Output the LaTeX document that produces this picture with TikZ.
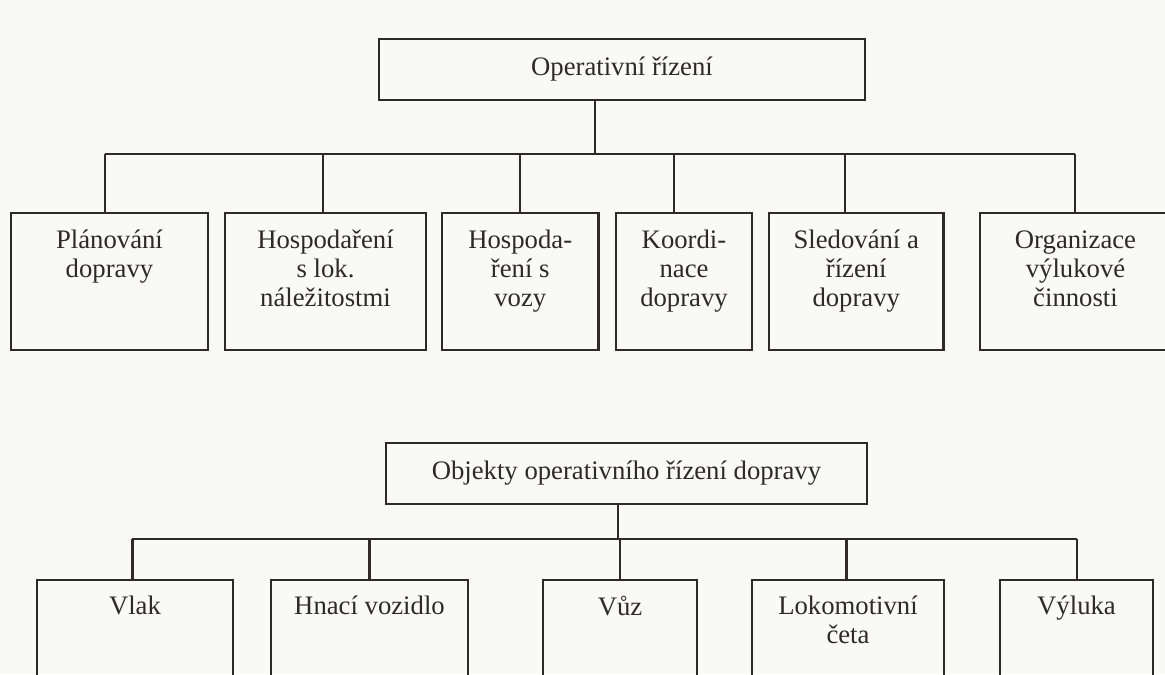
\documentclass[tikz,border=0pt]{standalone}
\usepackage{fontspec}
\setmainfont{Liberation Serif}
\usepackage{tikz}
\usetikzlibrary{positioning}
\definecolor{paper}{RGB}{249,249,245}
\definecolor{ink}{RGB}{48,42,38}

\begin{document}
\begin{tikzpicture}[x=0.02cm,y=-0.02cm,
  head/.style={draw=ink,line width=1.15pt,minimum width=#1,minimum height=1.22cm,inner sep=0pt,anchor=north west,text=ink,font=\fontsize{15.2}{16.5}\selectfont},
  box/.style={draw=ink,line width=1.15pt,minimum width=#1,minimum height=2.74cm,inner sep=0pt,anchor=north west},
  boxtext/.style={align=center,inner sep=0pt,text=ink,font=\fontsize{15.2}{16.5}\selectfont},
  wire/.style={draw=ink,line width=1.15pt}]
  \useasboundingbox (0,0) rectangle (1165,674);
  \clip (0,0) rectangle (1165,674);
  \fill[paper] (0,0) rectangle (1165,674);
  % Upper tree
  \node[head=9.72cm] (oper) at (378,38) {Operativní řízení};
  \node[box=3.94cm] (plan) at (10,212) {};
  \node[box=4.02cm] (lok) at (224,212) {};
  \node[box=3.13cm] (voz) at (441,212) {};
  \node[box=2.72cm] (koord) at (615,212) {};
  \node[box=3.49cm] (sled) at (768,212) {};
  \node[box=3.82cm] (vyl) at (979,212) {};
  \node[boxtext,below=0.36cm of plan.north] (plantext) {Plánování\\dopravy};
  \node[boxtext,below=0.36cm of lok.north] (loktext) {Hospodaření\\s lok.\\náležitostmi};
  \node[boxtext,below=0.36cm of voz.north] (voztext) {Hospoda-\\ření s\\vozy};
  \node[boxtext,below=0.36cm of koord.north] (koordtext) {Koordi-\\nace\\dopravy};
  \node[boxtext,below=0.36cm of sled.north] (sledtext) {Sledování a\\řízení\\dopravy};
  \node[boxtext,below=0.36cm of vyl.north] (vyltext) {Organizace\\výlukové\\činnosti};
  % Upper connectors
  \coordinate (bus1) at (595,154);
  \draw[wire] (oper.south -| bus1) -- (bus1);
  \draw[wire] ([xshift=-0.09cm]plan.north |- bus1) -- ([xshift=-0.02cm]vyl.north |- bus1);
  \draw[wire] ([xshift=-0.09cm]plan.north |- bus1) -- ([xshift=-0.09cm]plan.north);
  \draw[wire] ([xshift=-0.05cm]lok.north |- bus1) -- ([xshift=-0.05cm]lok.north);
  \draw[wire] (voz.north |- bus1) -- (voz.north);
  \draw[wire] ([xshift=-0.2cm]koord.north |- bus1) -- ([xshift=-0.2cm]koord.north);
  \draw[wire] ([xshift=-0.22cm]sled.north |- bus1) -- ([xshift=-0.22cm]sled.north);
  \draw[wire] ([xshift=-0.02cm]vyl.north |- bus1) -- ([xshift=-0.02cm]vyl.north);
  % Lower tree
  \node[head=9.62cm] (obj) at (385,442) {Objekty operativního řízení dopravy};
  \node[box=3.92cm] (vlak) at (36,579) {};
  \node[box=3.94cm] (hnaci) at (270,579) {};
  \node[box=3.08cm] (vuz) at (542,579) {};
  \node[box=3.84cm] (ceta) at (751,579) {};
  \node[box=3.06cm] (vyluka) at (999,579) {};
  \node[boxtext,below=0.33cm of vlak.north] (vlaktext) {Vlak};
  \node[boxtext,below=0.33cm of hnaci.north] (hnacitext) {Hnací vozidlo};
  \node[boxtext,below=0.33cm of vuz.north] (vuztext) {Vůz};
  \node[boxtext,below=0.33cm of ceta.north] (cetatext) {Lokomotivní\\četa};
  \node[boxtext,below=0.33cm of vyluka.north] (vylukatext) {Výluka};
  % Lower connectors
  \coordinate (bus2) at (618,539);
  \draw[wire] (obj.south -| bus2) -- (bus2);
  \draw[wire] ([xshift=-0.05cm]vlak.north |- bus2) -- (vyluka.north |- bus2);
  \draw[wire] ([xshift=-0.05cm]vlak.north |- bus2) -- ([xshift=-0.05cm]vlak.north);
  \draw[wire] (hnaci.north |- bus2) -- (hnaci.north);
  \draw[wire] (vuz.north |- bus2) -- (vuz.north);
  \draw[wire] ([xshift=-0.03cm]ceta.north |- bus2) -- ([xshift=-0.03cm]ceta.north);
  \draw[wire] (vyluka.north |- bus2) -- (vyluka.north);
\end{tikzpicture}
\end{document}
